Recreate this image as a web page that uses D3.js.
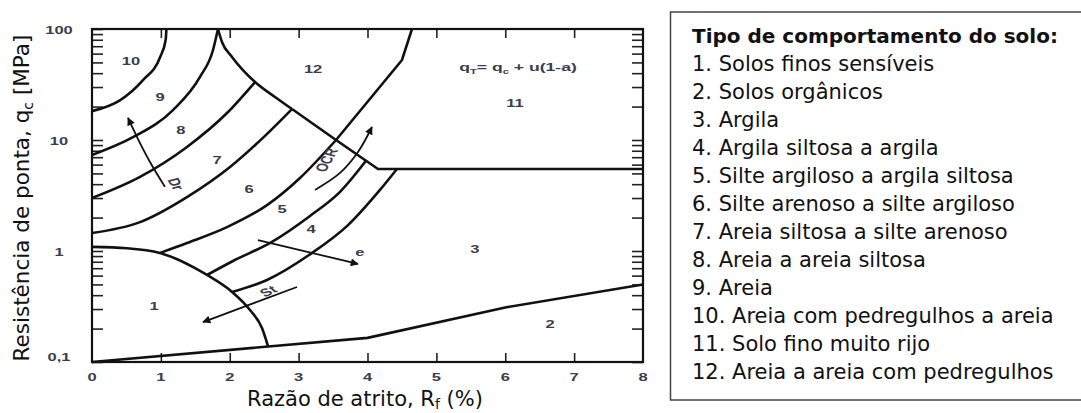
<!DOCTYPE html>
<html><head><meta charset="utf-8">
<script src="https://cdn.jsdelivr.net/npm/d3@7"></script>
<style>
html,body{margin:0;padding:0;background:#fff;}
svg{display:block;}
</style></head><body>
<svg id="chart" width="1081" height="413"></svg>
<script>
// Soil behaviour type chart: cone resistance qc (log) vs friction ratio Rf
const xTickValues = [0, 1, 2, 3, 4, 5, 6, 7, 8];
const yTickValues = [0.1, 1, 10, 100];
const yTickText = ["0,1", "1", "10", "100"];

// zone boundaries as [Rf %, qc MPa]
const bound10_9 = [[0,18.2],[0.41,22.9],[0.74,34.7],[0.99,56],[1.07,80],[1.08,100]];
const bound9_8  = [[0,7.33],[0.595,10.6],[1.176,18.6],[1.568,37],[1.757,64.7],[1.829,100]];
const bound8_7  = [[0,3.0],[0.697,4.65],[1.379,8.65],[1.96,17.5],[2.367,33.3]];
const bound7_6  = [[0,1.45],[0.697,1.82],[1.379,3.06],[2.004,5.71],[2.512,10.9],[2.904,19.0]];
const bound6_5  = [[0.987,0.96],[1.379,1.18],[1.96,1.64],[2.541,2.59],[3.02,4.55],[3.543,10.0],[4.501,52.6],[4.646,100]];
const bound5_4  = [[1.67,0.608],[2.047,0.813],[2.613,1.21],[3.165,2.07],[3.601,3.41],[3.978,6.5]];
const bound4_3  = [[2.033,0.428],[2.541,0.548],[3.151,0.92],[3.717,1.71],[4.181,3.55],[4.428,5.48]];
const boundZone1  = [[0,1.09],[0.508,1.06],[0.987,0.96],[1.67,0.608],[2.033,0.428],[2.294,0.294],[2.468,0.202],[2.555,0.139]];
const boundZone2  = [[0,0.1],[4,0.165],[6,0.31],[8,0.5]];
const boundZone12 = [[1.829,100],[1.887,76.4],[2.033,56],[2.367,33.3],[2.657,24.4],[2.904,19.0],[3.543,10.0],[4.152,5.48],[8,5.48]];

// trend arrows
const arrowDr  = [[1.06,3.78],[0.842,6.34],[0.668,10.2],[0.523,15.8]];
const arrowOCR = [[3.238,3.55],[3.601,5.05],[3.862,7.8],[4.065,13.1]];
const arrowE   = [[2.41,1.256],[3.862,0.764]];
const arrowSt  = [[2.976,0.474],[1.612,0.229]];

// zone numbers and their positions
const zoneNames  = ["1","2","3","4","5","6","7","8","9","10","11","12"];
const zoneRf     = [0.90, 6.65, 5.56, 3.18, 2.76, 2.28, 1.815, 1.29, 0.987, 0.566, 6.14, 3.21];
const zoneQc     = [0.32, 0.22, 1.04, 1.58, 2.39, 3.62, 6.6, 12.3, 24.4, 51.5, 21.5, 43.6];

// arrow captions
const captionText  = ["Dr", "OCR", "e", "St"];
const captionRf    = [1.22, 3.40, 3.89, 2.555];
const captionQc    = [4.02, 6.6, 0.98, 0.436];
const captionAngle = [69, -69, 0, -35];

const legendTitle = "Tipo de comportamento do solo:";
const legendItems = [
  "1. Solos finos sensíveis",
  "2. Solos orgânicos",
  "3. Argila",
  "4. Argila siltosa a argila",
  "5. Silte argiloso a argila siltosa",
  "6. Silte arenoso a silte argiloso",
  "7. Areia siltosa a silte arenoso",
  "8. Areia a areia siltosa",
  "9. Areia",
  "10. Areia com pedregulhos a areia",
  "11. Solo fino muito rijo",
  "12. Areia a areia com pedregulhos"
];

const svg = d3.select("#chart");
const x = d3.scaleLinear().domain([0, 8]).range([92, 643]);
const y = d3.scaleLog().domain([0.1, 100]).range([362, 29]);

const defs = svg.append("defs");
defs.append("marker")
  .attr("id", "head")
  .attr("viewBox", "0 0 10 10")
  .attr("refX", 9).attr("refY", 5)
  .attr("markerUnits", "userSpaceOnUse")
  .attr("markerWidth", 11).attr("markerHeight", 8)
  .attr("orient", "auto")
  .append("path").attr("d", "M0,0 L10,5 L0,10 Z").attr("fill", "#111");

// ticks on all four sides, pointing inward
const minor = y.ticks();
svg.append("g").attr("transform", `translate(0,${y(0.1)})`)
  .call(d3.axisTop(x).tickValues(xTickValues.slice(1, -1)).tickSize(9).tickFormat(""));
svg.append("g").attr("transform", `translate(0,${y(100)})`)
  .call(d3.axisBottom(x).tickValues(xTickValues.slice(1, -1)).tickSize(9).tickFormat(""));
svg.append("g").attr("transform", `translate(${x(0)},0)`)
  .call(d3.axisRight(y).tickValues(minor).tickSize(11).tickFormat(""));
svg.append("g").attr("transform", `translate(${x(8)},0)`)
  .call(d3.axisLeft(y).tickValues(minor).tickSize(11).tickFormat(""));
svg.selectAll(".domain").remove();
svg.selectAll(".tick line").attr("stroke", "#222").attr("stroke-width", 1.6);

// boundaries: curved parts smoothed, straight runs kept sharp
const smooth = d3.line().x(d => x(d[0])).y(d => y(d[1])).curve(d3.curveMonotoneX);
const straight = d3.line().x(d => x(d[0])).y(d => y(d[1]));
const curved = [bound10_9, bound9_8, bound8_7, bound7_6, bound6_5.slice(0, 6), bound5_4, bound4_3,
                boundZone1, boundZone12.slice(0, 6)];
const linear = [boundZone2, bound6_5.slice(5), boundZone12.slice(5)];
const gB = svg.append("g").attr("fill", "none").attr("stroke", "#111")
  .attr("stroke-width", 2.6).attr("stroke-linejoin", "round");
gB.selectAll("path.c").data(curved).join("path").attr("class", "c").attr("d", smooth);
gB.selectAll("path.l").data(linear).join("path").attr("class", "l").attr("d", straight);

// arrows
const arrowLine = d3.line().x(d => x(d[0])).y(d => y(d[1])).curve(d3.curveCatmullRom);
svg.append("g").selectAll("path").data([arrowDr, arrowOCR, arrowE, arrowSt]).join("path")
  .attr("d", arrowLine).attr("fill", "none").attr("stroke", "#111")
  .attr("stroke-width", 1.8).attr("marker-end", "url(#head)");

// frame
svg.append("rect")
  .attr("x", x(0)).attr("y", y(100))
  .attr("width", x(8) - x(0)).attr("height", y(0.1) - y(100))
  .attr("fill", "none").attr("stroke", "#111").attr("stroke-width", 2.2);

// small chart lettering is drawn wide
const smallFont = "'Liberation Sans', Arial, sans-serif";
const labelInk = "#3a3d4d";
const stretch = 1.5;
function smallText(g) {
  g.attr("text-anchor", "middle").attr("font-family", smallFont)
   .attr("font-size", 11).attr("font-weight", "bold").attr("fill", labelInk);
}

// zone numbers
svg.append("g").call(smallText).selectAll("text").data(zoneNames).join("text")
  .attr("transform", (d, i) => `translate(${x(zoneRf[i])},${y(zoneQc[i])}) scale(${stretch},1)`)
  .attr("dy", "0.36em").text(d => d);

// arrow captions
svg.append("g").call(smallText).selectAll("text").data(captionText).join("text")
  .attr("transform", (d, i) => `translate(${x(captionRf[i])},${y(captionQc[i])}) scale(${stretch},1) rotate(${captionAngle[i]})`)
  .attr("dy", "0.36em").text(d => d);

// formula
const f = svg.append("g").call(smallText).append("text")
  .attr("transform", `translate(${x(6.185)},${y(45.5)}) scale(1.6,1)`).attr("dy", "0.36em");
f.append("tspan").text("q");
f.append("tspan").attr("font-size", 7).attr("dy", 3).text("T");
f.append("tspan").attr("dy", -3).text("= q");
f.append("tspan").attr("font-size", 7).attr("dy", 3).text("c");
f.append("tspan").attr("dy", -3).text(" + u(1-a)");

// tick labels
svg.append("g").call(smallText).selectAll("text").data(xTickValues).join("text")
  .attr("transform", d => `translate(${x(d)},381) scale(${stretch},1)`).text(d => d);
svg.append("g").call(smallText).selectAll("text").data(yTickValues).join("text")
  .attr("transform", d => `translate(59,${Math.min(y(d) + 5, 361)}) scale(${stretch},1)`)
  .text((d, i) => yTickText[i]);

// axis titles
const titleFont = "'DejaVu Sans', sans-serif";
const xt = svg.append("text").attr("x", 247).attr("y", 405.5)
  .attr("font-family", titleFont).attr("font-size", 21).attr("fill", "#111");
xt.append("tspan").text("Razão de atrito, R");
xt.append("tspan").attr("font-size", 14).attr("dy", 3).text("f");
xt.append("tspan").attr("dy", -3).text(" (%)");

const yt = svg.append("text").attr("transform", "translate(29,198) rotate(-90)")
  .attr("text-anchor", "middle")
  .attr("font-family", titleFont).attr("font-size", 21.5).attr("fill", "#111");
yt.append("tspan").text("Resistência de ponta, q");
yt.append("tspan").attr("font-size", 14).attr("dy", 4).text("c");
yt.append("tspan").attr("dy", -4).text(" [MPa]");

// legend box
svg.append("rect").attr("x", 670.5).attr("y", 12).attr("width", 412).attr("height", 388)
  .attr("fill", "none").attr("stroke", "#444").attr("stroke-width", 1.5);
svg.append("text").attr("x", 692).attr("y", 43)
  .attr("font-family", titleFont).attr("font-size", 20).attr("font-weight", "bold")
  .attr("fill", "#111").text(legendTitle);
svg.append("g").selectAll("text").data(legendItems).join("text")
  .attr("x", 692).attr("y", (d, i) => 70.5 + 28 * i)
  .attr("font-family", titleFont).attr("font-size", 21).attr("fill", "#111")
  .text(d => d);
</script>
</body></html>
